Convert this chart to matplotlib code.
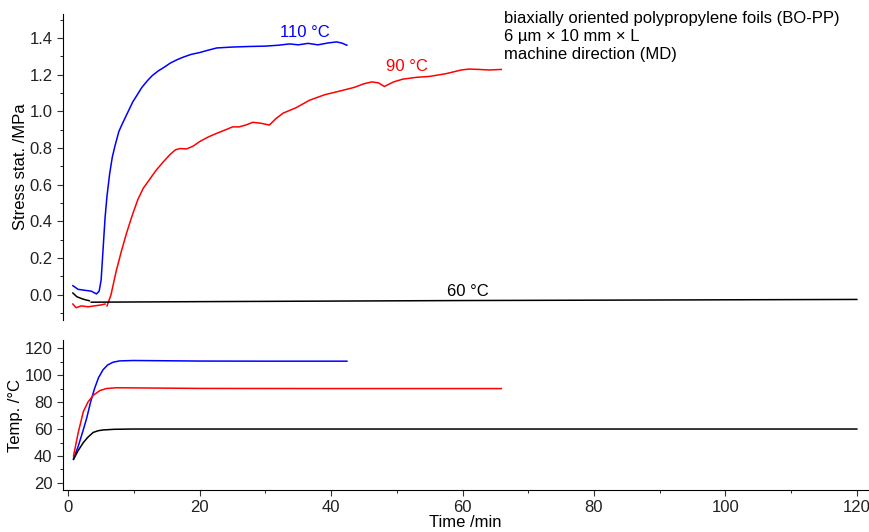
import numpy as np
import matplotlib.pyplot as plt
from matplotlib.ticker import MultipleLocator

plt.rcParams['font.family'] = ['Liberation Sans', 'DejaVu Sans']

# stress data (time /min, stress /MPa)
t110_s = [0.7, 1.5, 2.5, 3.5, 4.3, 4.7, 5.0, 5.3, 5.6, 5.9, 6.3, 6.7, 7.1, 7.7, 8.2, 9.0, 9.8, 10.5, 11.2, 12.0, 12.8, 13.7, 14.6, 15.5, 16.5, 17.5, 18.7, 20.0, 21.3, 22.6, 25.0, 27.5, 30.0, 32.0, 33.7, 35.0, 36.5, 38.0, 39.5, 40.8, 41.6, 42.4]
s110 = [0.05, 0.03, 0.025, 0.02, 0.005, 0.02, 0.08, 0.25, 0.42, 0.54, 0.66, 0.75, 0.81, 0.89, 0.93, 0.99, 1.05, 1.09, 1.13, 1.165, 1.195, 1.22, 1.24, 1.262, 1.28, 1.295, 1.31, 1.32, 1.333, 1.345, 1.35, 1.353, 1.355, 1.36, 1.367, 1.362, 1.37, 1.362, 1.372, 1.378, 1.372, 1.36]

t90_s_a = [0.7, 1.2, 2.0, 3.0, 4.0, 5.0, 5.6]
s90_a = [-0.05, -0.07, -0.06, -0.065, -0.06, -0.055, -0.05]
t90_s = [5.9, 6.5, 7.3, 8.1, 8.9, 9.8, 10.6, 11.4, 12.4, 13.4, 14.6, 15.5, 16.3, 17.0, 18.0, 19.0, 20.0, 21.3, 22.6, 24.0, 25.0, 26.0, 27.0, 28.1, 29.3, 30.6, 31.6, 32.7, 34.7, 36.7, 39.0, 41.3, 43.5, 45.0, 46.2, 47.2, 48.1, 49.5, 50.9, 53.0, 55.0, 57.5, 59.8, 61.0, 62.5, 64.0, 65.9]
s90 = [-0.06, 0.0, 0.13, 0.24, 0.34, 0.44, 0.52, 0.58, 0.63, 0.68, 0.73, 0.765, 0.79, 0.797, 0.795, 0.81, 0.835, 0.86, 0.88, 0.90, 0.915, 0.915, 0.925, 0.94, 0.935, 0.925, 0.96, 0.99, 1.02, 1.06, 1.09, 1.11, 1.13, 1.15, 1.16, 1.155, 1.135, 1.16, 1.175, 1.185, 1.19, 1.205, 1.225, 1.23, 1.228, 1.225, 1.228]

t60_s_a = [0.7, 1.3, 2.0, 2.7, 3.2]
s60_a = [0.01, -0.01, -0.02, -0.028, -0.032]
t60_s = [3.5, 20, 40, 60, 80, 100, 120]
s60 = [-0.04, -0.037, -0.034, -0.031, -0.029, -0.027, -0.025]

# temperature data (time /min, temp /degC)
t110_T = [0.8, 1.5, 2.2, 2.8, 3.4, 4.0, 4.6, 5.3, 6.0, 6.8, 7.8, 9.9, 15, 20, 30, 42.4]
T110 = [38, 47, 58, 68, 80, 90, 98, 104, 107.5, 109.5, 110.5, 110.8, 110.6, 110.4, 110.3, 110.3]
t90_T = [0.8, 1.5, 2.3, 3.0, 3.8, 4.8, 5.8, 7.3, 10, 20, 40, 65.9]
T90 = [40, 57, 73, 80, 85, 88.5, 90, 90.6, 90.5, 90.1, 90, 90]
t60_T = [0.8, 1.5, 2.3, 3.0, 3.8, 4.6, 5.3, 7.0, 9.9, 20, 60, 120]
T60 = [37.5, 44, 50, 54, 57.5, 58.8, 59.3, 59.8, 60, 60, 60, 60]

fig = plt.figure(figsize=(8.7, 5.32), dpi=100)
W, H = 870, 532
ax1 = fig.add_axes([63 / W, 1 - 320 / H, (868 - 63) / W, (320 - 14) / H])
ax2 = fig.add_axes([63 / W, 1 - 490 / H, (868 - 63) / W, (490 - 340) / H], sharex=ax1)

fs = 12
lw = 1.1
ax1.plot(t110_s, s110, color='#0000ff', lw=lw)
ax1.plot(t90_s_a, s90_a, color='#ff0000', lw=lw)
ax1.plot(t90_s, s90, color='#ff0000', lw=lw)
ax1.plot(t60_s_a, s60_a, color='black', lw=lw)
ax1.plot(t60_s, s60, color='black', lw=lw)

ax1.text(36, 1.43, '110 °C', color='#0000ff', fontsize=fs, ha='center', va='center')
ax1.text(51.5, 1.245, '90 °C', color='#ff0000', fontsize=fs, ha='center', va='center')
ax1.text(60.8, 0.02, '60 °C', color='black', fontsize=fs, ha='center', va='center')

ax2.plot(t110_T, T110, color='#0000ff', lw=lw)
ax2.plot(t90_T, T90, color='#ff0000', lw=lw)
ax2.plot(t60_T, T60, color='black', lw=lw)

ax1.set_xlim(-0.8, 121.7)
ax1.set_ylim(-0.137, 1.53)
ax2.set_ylim(14.8, 126)

for a in (ax1, ax2):
    a.spines['top'].set_visible(False)
    a.spines['right'].set_visible(False)
    a.tick_params(labelsize=fs, color='#333333', labelcolor='#222222')
    a.tick_params(which='major', length=4)
    a.tick_params(which='minor', length=2.5)

ax1.spines['bottom'].set_visible(False)
ax1.tick_params(axis='x', which='both', bottom=False, labelbottom=False)
ax1.yaxis.set_major_locator(MultipleLocator(0.2))
ax1.yaxis.set_minor_locator(MultipleLocator(0.1))
ax1.yaxis.set_major_formatter(plt.FormatStrFormatter('%.1f'))
ax1.set_ylabel('Stress stat. /MPa', fontsize=fs)
ax1.yaxis.set_label_coords(-0.044, 0.5)

ax2.yaxis.set_major_locator(MultipleLocator(20))
ax2.yaxis.set_minor_locator(MultipleLocator(10))
ax2.xaxis.set_major_locator(MultipleLocator(20))
ax2.xaxis.set_minor_locator(MultipleLocator(10))
ax2.set_ylabel('Temp. /°C', fontsize=fs)
ax2.yaxis.set_label_coords(-0.050, 0.5)
ax2.set_xlabel('Time /min', fontsize=fs, labelpad=0)

fig.text(504 / W, 1 - 11 / H, 'biaxially oriented polypropylene foils (BO-PP)\n6 µm × 10 mm × L\nmachine direction (MD)',
         fontsize=fs, ha='left', va='top', linespacing=1.25)

fig.savefig('out.png', dpi=100)
